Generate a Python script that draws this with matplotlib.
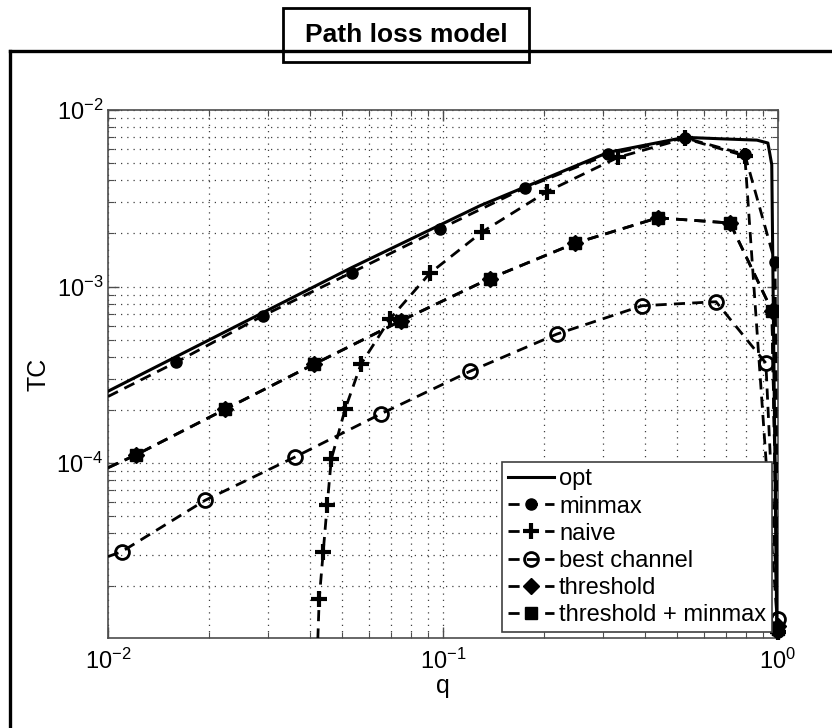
import matplotlib
matplotlib.use("Agg")
import matplotlib.pyplot as plt
from matplotlib.lines import Line2D
from matplotlib.patches import Rectangle
from matplotlib.ticker import LogLocator, NullFormatter

plt.rcParams['font.family'] = ['Liberation Sans', 'DejaVu Sans']

# values (q on x, TC on y)
opt_q = [0.01, 0.0534, 0.129, 0.311, 0.527, 0.70, 0.865, 0.933, 0.958, 0.993]
opt_tc = [2.55e-4, 1.28e-3, 2.87e-3, 5.75e-3, 7.0e-3, 6.85e-3, 6.75e-3, 6.5e-3, 4.9e-3, 9e-6]

minmax_q = [0.01, 0.0160, 0.0290, 0.0534, 0.098, 0.176, 0.311, 0.527, 0.796, 0.98, 1.0]
minmax_tc = [2.38e-4, 3.73e-4, 6.83e-4, 1.2e-3, 2.12e-3, 3.63e-3, 5.6e-3, 6.95e-3, 5.6e-3, 1.37e-3, 1.1e-5]

naive_q = [0.0423, 0.0427, 0.0439, 0.0451, 0.0464, 0.0510, 0.0569, 0.0695, 0.0914,
           0.131, 0.204, 0.333, 0.527, 0.796, 1.0]
naive_tc = [1.0e-5, 1.69e-5, 3.14e-5, 5.75e-5, 1.05e-4, 2.01e-4, 3.63e-4, 6.56e-4, 1.19e-3,
            2.04e-3, 3.44e-3, 5.39e-3, 6.9e-3, 5.5e-3, 1.1e-5]

best_q = [0.01, 0.0110, 0.0195, 0.0361, 0.0653, 0.1205, 0.219, 0.393, 0.653, 0.92, 1.0]
best_tc = [2.95e-5, 3.15e-5, 6.15e-5, 1.08e-4, 1.9e-4, 3.31e-4, 5.38e-4, 7.78e-4, 8.2e-4, 3.68e-4, 1.3e-5]

thr_q = [0.01, 0.0121, 0.0223, 0.0412, 0.0750, 0.138, 0.248, 0.438, 0.719, 0.959, 1.0]
thr_tc = [9.4e-5, 1.11e-4, 2.01e-4, 3.63e-4, 6.4e-4, 1.11e-3, 1.76e-3, 2.45e-3, 2.29e-3, 7.3e-4, 1.2e-5]

thrmm_q = [0.01, 0.0121, 0.0223, 0.0412, 0.0750, 0.138, 0.248, 0.438, 0.719, 0.959, 1.0]
thrmm_tc = [9.4e-5, 1.11e-4, 2.01e-4, 3.63e-4, 6.4e-4, 1.11e-3, 1.76e-3, 2.45e-3, 2.29e-3, 7.3e-4, 1.15e-5]

W, H = 832, 728
fig = plt.figure(figsize=(W / 100, H / 100), dpi=100)
ax = fig.add_axes([108 / W, 1 - 638 / H, 670 / W, 528 / H])

dash = (0, (4, 2.6))
skip_first = slice(1, None)

series = [
    (minmax_q, minmax_tc, 'minmax', dict(marker='o', ms=8), 4),
    (naive_q, naive_tc, 'naive', dict(marker='+', ms=11, mew=3), 4),
    (best_q, best_tc, 'best channel', dict(marker='o', ms=10, mew=2, mfc='none'), 4),
    (thr_q, thr_tc, 'threshold', dict(marker='D', ms=8), 3),
    (thrmm_q, thrmm_tc, 'threshold + minmax', dict(marker='s', ms=9), 4),
]

ax.plot(opt_q, opt_tc, color='black', lw=2.2, ls='-', label='opt', zorder=5)
for xs, ys, name, mk, z in series:
    ax.plot(xs, ys, color='black', lw=2.0, ls=dash, markevery=skip_first,
            label=name, zorder=z, **mk)
    # MATLAB does not clip markers at the axes edge, so redraw the q = 1 end point
    ax.plot(xs[-1:], ys[-1:], color='black', ls='none', clip_on=False, zorder=z, **mk)

ax.set_xscale('log')
ax.set_yscale('log')
ax.set_xlim(0.01, 1.0)
ax.set_ylim(1.02e-5, 1e-2)
for axis in (ax.xaxis, ax.yaxis):
    axis.set_major_locator(LogLocator(base=10))
    axis.set_minor_locator(LogLocator(base=10, subs=range(2, 10)))
    axis.set_minor_formatter(NullFormatter())

ax.grid(True, which='both', ls=(0, (1, 4)), color='0.25', lw=0.9)
ax.tick_params(which='both', direction='in', top=True, right=True, colors='0.3',
               labelcolor='black', labelsize=17)
ax.tick_params(which='major', length=8, width=1)
ax.tick_params(which='minor', length=4, width=0.8)
ax.tick_params(axis='x', pad=8)
for s in ax.spines.values():
    s.set_color('0.3')
    s.set_linewidth(1.2)

ax.set_xlabel('q', fontsize=18, labelpad=0)
ax.set_ylabel('TC', fontsize=18, labelpad=4)

leg = ax.legend(loc='lower right', bbox_to_anchor=(0.991, 0.011), borderaxespad=0,
                fontsize=17, frameon=True, fancybox=False, edgecolor='0.25',
                handlelength=1.95, handletextpad=0.2, labelspacing=0.22,
                borderpad=0.25, framealpha=1)
leg.get_frame().set_linewidth(1.2)
leg.set_zorder(10)

# outer frame with the boxed title
fig.add_artist(Line2D([10 / W, 10 / W], [0, 1 - 51 / H], color='black', lw=2.4))
fig.add_artist(Line2D([10 / W, 1], [1 - 51 / H, 1 - 51 / H], color='black', lw=2.4))
fig.add_artist(Rectangle((283 / W, 1 - 62 / H), 246 / W, 54 / H, facecolor='white',
                         edgecolor='black', lw=2, transform=fig.transFigure))
fig.text(406 / W, 1 - 35 / H, 'Path loss model', ha='center', va='center',
         fontsize=19, fontweight='bold')

fig.savefig('out.png', dpi=100)
